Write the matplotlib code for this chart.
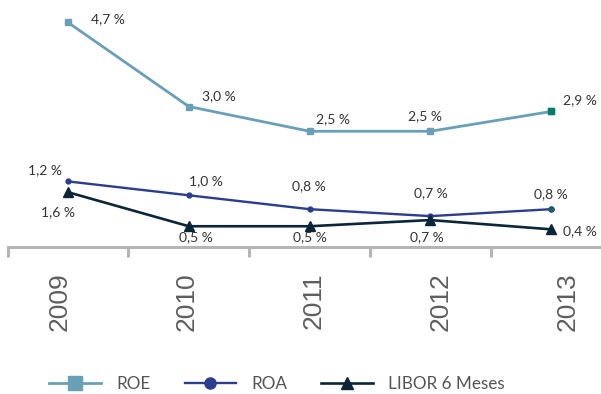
import matplotlib
matplotlib.use("Agg")
import matplotlib.pyplot as plt
from matplotlib.lines import Line2D
from matplotlib.transforms import ScaledTranslation

# Data
years = ["2009", "2010", "2011", "2012", "2013"]
roe = [4.7, 3.0, 2.5, 2.5, 2.9]
roa = [1.2, 1.0, 0.8, 0.7, 0.8]
libor = [1.6, 0.5, 0.5, 0.7, 0.4]

C_ROE = "#6aa0b6"
C_ROA = "#2a3d8f"
C_LIB = "#0b2638"
C_LAST = "#0a7a6c"
C_LAST_ROA = "#1d5c66"
C_TXT = "#333333"

W, H = 601, 394
fig = plt.figure(figsize=(W / 100, H / 100), dpi=100)

# axes box in pixel terms (left, bottom, width, height)
x_left, x_right = 7.6, 611.6
y_axis = 247  # from top
ax = fig.add_axes([x_left / W, (H - y_axis) / H, (x_right - x_left) / W, y_axis / H])
ax2 = ax.twinx()
ax3 = ax.twinx()

x = list(range(len(years)))
ax.set_xlim(-0.5, len(years) - 0.5)
for a in (ax, ax2, ax3):
    a.patch.set_visible(False)
    for s in a.spines.values():
        s.set_visible(False)
    a.set_yticks([])

# independent vertical scales for each series
ax.set_ylim(0.16, 5.154)
ax2.set_ylim(0.255, 3.814)
ax3.set_ylim(-0.171, 7.814)

lab_font = dict(family="Lato", fontsize=10, color=C_TXT)

def fmt(v):
    return f"{v:.1f}".replace(".", ",") + " %"

# ROE
ax.plot(x, roe, color=C_ROE, lw=2.0, marker="s", ms=4.5, mfc=C_ROE, mec=C_ROE, zorder=3)
ax.plot(x[-1], roe[-1], ls="none", marker="s", ms=4.5, mfc=C_LAST, mec=C_LAST, zorder=4)
roe_off = [(40, 3), (30, 10), (23, 12), (-5, 15), (29, 11)]
for xi, v, off in zip(x, roe, roe_off):
    ax.annotate(fmt(v), (xi, v), xytext=off, textcoords="offset pixels",
                ha="center", va="center", **lab_font)

# ROA
ax2.plot(x, roa, color=C_ROA, lw=1.7, marker="o", ms=3.5, mfc=C_ROA, mec=C_ROA, zorder=3)
ax2.plot(x[-1], roa[-1], ls="none", marker="o", ms=3.5, mfc=C_LAST_ROA, mec=C_LAST_ROA, zorder=4)
roa_off = [(-23, 11), (17, 14), (-1, 23), (0, 23), (0, 15)]
for xi, v, off in zip(x, roa, roa_off):
    ax2.annotate(fmt(v), (xi, v), xytext=off, textcoords="offset pixels",
                 ha="center", va="center", **lab_font)

# LIBOR
ax3.plot(x, libor, color=C_LIB, lw=1.9, marker="^", ms=7, mfc=C_LIB, mec=C_LIB, zorder=3)
lib_off = [(-10, -20), (7, -11), (0, -11), (-4, -17), (29, -2)]
for xi, v, off in zip(x, libor, lib_off):
    ax3.annotate(fmt(v), (xi, v), xytext=off, textcoords="offset pixels",
                 ha="center", va="center", **lab_font)

# category axis
ax.spines["bottom"].set_visible(True)
ax.spines["bottom"].set_color("#b5b5b5")
ax.spines["bottom"].set_linewidth(2.2)
ax.set_xticks([i - 0.5 for i in range(len(years) + 1)], minor=True)
ax.tick_params(axis="x", which="minor", length=7, width=2.2, color="#b5b5b5", direction="out")
ax.set_xticks(x)
ax.set_xticklabels(years, rotation=90, fontsize=19, color="#5e5e5e",
                   family="Liberation Sans")
ax.tick_params(axis="x", which="major", length=0, pad=18)
for i, t in enumerate(ax.get_xticklabels()):
    dx = (-8 + 6.2 * i) / 100
    t.set_transform(t.get_transform() + ScaledTranslation(dx, 0, fig.dpi_scale_trans))

# legend
handles = [
    Line2D([], [], color=C_ROE, lw=2.0, marker="s", ms=10, mfc=C_ROE, mec=C_ROE),
    Line2D([], [], color=C_ROA, lw=1.7, marker="o", ms=8, mfc=C_ROA, mec=C_ROA),
    Line2D([], [], color=C_LIB, lw=1.9, marker="^", ms=9, mfc=C_LIB, mec=C_LIB),
]
fig.legend(handles, ["ROE", "ROA", "LIBOR 6 Meses"], ncol=3, frameon=False,
           loc="center", bbox_to_anchor=(277 / W, 10 / H),
           handlelength=3.0, handletextpad=0.9, columnspacing=2.0,
           prop=dict(family="Lato", size=12.3), labelcolor="#555555")

fig.savefig("out.png", dpi=100)
